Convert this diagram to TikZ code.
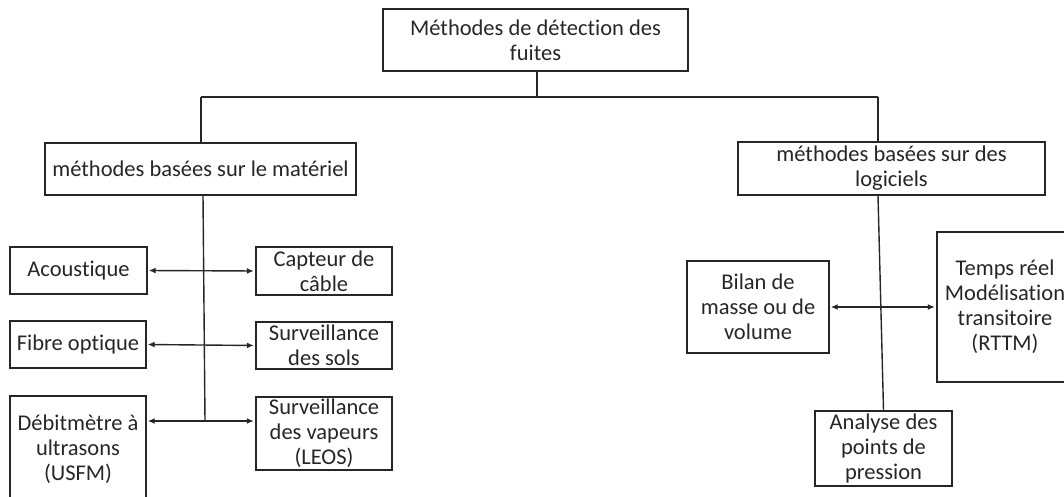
\documentclass[tikz,border=0pt]{standalone}
\usepackage{fontspec}
\setmainfont{Carlito}[Ligatures=NoCommon]
\usepackage{xcolor}
\usepackage{tikz}
\usetikzlibrary{arrows.meta}
\usetikzlibrary{calc}
\usetikzlibrary{positioning}

\definecolor{inkgray}{HTML}{262626}

\begin{document}
\begin{tikzpicture}[x=1pt, y=-1pt,
    box/.style={draw=inkgray, line width=1.4pt, align=center, inner sep=0pt,
      text=inkgray, font=\fontsize{22.5}{25}\selectfont},
    link/.style={draw=inkgray, line width=1.4pt},
    biarrow/.style={link, {Latex[length=7pt,width=6pt]}-{Latex[length=7pt,width=6pt]},
      shorten <=1pt, shorten >=1.5pt}]

    \useasboundingbox (0, 0) rectangle (1064, 497);

    % root and the two families
    \node [box, minimum width=305, minimum height=62] (top) at (535.5, 40)
      {Méthodes de détection des\\fuites};
    \node [box, minimum width=311, minimum height=52] (mat) at (200.5, 169)
      {méthodes basées sur le matériel};
    \node [box, minimum width=307, minimum height=53] (log) at (891.5, 168.5)
      {méthodes basées sur des\\logiciels};

    % hardware methods
    \node [box, minimum width=137, minimum height=47] (acou) at (78.5, 270.5) {Acoustique};
    \node [box, minimum width=136, minimum height=47] (fibre) at (78, 344.5) {Fibre optique};
    \node [box, minimum width=136, minimum height=106] (debit) at (78, 449)
      {Débitmètre à\\ultrasons\\(USFM)};
    \node [box, minimum width=136, minimum height=48] (cable) at (324, 271) {Capteur de\\câble};
    \node [box, minimum width=136, minimum height=47] (sols) at (324, 345.5) {Surveillance\\des sols};
    \node [box, minimum width=136, minimum height=73] (vap) at (324, 433.5)
      {Surveillance\\des vapeurs\\(LEOS)};

    % software methods
    \node [box, minimum width=142, minimum height=92] (bilan) at (758, 307)
      {Bilan de\\masse ou de\\volume};
    \node [box, minimum width=136, minimum height=150] (temps) at (1005, 307)
      {Temps réel\\Modélisation\\transitoire\\(RTTM)};
    \node [box, minimum width=137, minimum height=75] (analyse) at (883.5, 448.5)
      {Analyse des\\points de\\pression};

    % tree
    \coordinate (jl) at (201, 97);
    \coordinate (jr) at (878, 97);
    \coordinate (trunk) at (205, 421);
    \draw [link] (jl) -- (jr);
    \draw [link] (top.south -| 537, 0) -- (jl -| 537, 0);
    \draw [link] (jl) -- (mat.north -| jl);
    \draw [link] (jr) -- (log.north -| jr);
    \draw [link] (mat.south -| 203, 0) -- (trunk);
    \draw [link] (log.south -| jr) -- (analyse.north);

    % pairs
    \draw [biarrow] (acou.east) -- (cable.west);
    \draw [biarrow] (fibre.east) -- (sols.west);
    \draw [biarrow] (debit.east |- trunk) -- (vap.west |- trunk);
    \draw [biarrow] (bilan.east) -- (temps.west);

  \end{tikzpicture}
\end{document}
